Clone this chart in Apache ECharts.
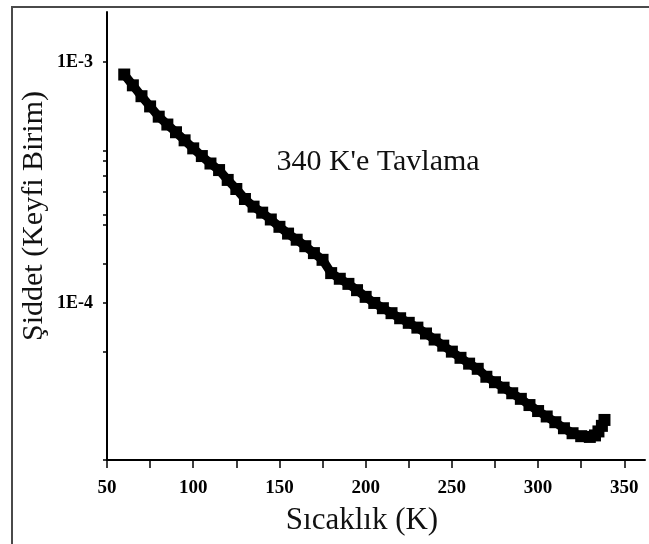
<!DOCTYPE html>
<html>
<head>
<meta charset="utf-8">
<script src="https://cdn.jsdelivr.net/npm/echarts@6/dist/echarts.min.js"></script>
<style>
html,body{margin:0;padding:0;background:#fff;}
#chart{width:649px;height:544px;}
</style>
</head>
<body>
<div id="chart"></div>
<script>
// Temperature (K)
const temperature = [60,65,70,75,80,85,90,95,100,105,110,115,120,125,130,135,140,145,150,155,160,165,170,175,180,185,190,195,200,205,210,215,220,225,230,235,240,245,250,255,260,265,270,275,280,285,290,295,300,305,310,315,320,325,330,333,335,337,338.5];
// Intensity (arbitrary units)
const intensity = [8.87e-4,8.00e-4,7.21e-4,6.54e-4,5.93e-4,5.50e-4,5.11e-4,4.73e-4,4.38e-4,4.07e-4,3.79e-4,3.56e-4,3.24e-4,2.97e-4,2.70e-4,2.51e-4,2.37e-4,2.22e-4,2.07e-4,1.94e-4,1.83e-4,1.72e-4,1.61e-4,1.51e-4,1.33e-4,1.26e-4,1.20e-4,1.13e-4,1.06e-4,1.00e-4,9.51e-5,9.07e-5,8.64e-5,8.27e-5,7.90e-5,7.47e-5,7.05e-5,6.65e-5,6.28e-5,5.92e-5,5.60e-5,5.33e-5,4.94e-5,4.69e-5,4.45e-5,4.22e-5,4.00e-5,3.77e-5,3.56e-5,3.38e-5,3.20e-5,3.02e-5,2.88e-5,2.80e-5,2.78e-5,2.82e-5,2.93e-5,3.09e-5,3.27e-5];

const xLabelValues = [50,100,150,200,250,300,350];
const xTickValues = [50,75,100,125,150,175,200,225,250,275,300,325,350];
const yLabelValues = [1e-3,1e-4];
const yLabelTexts = ['1E-3','1E-4'];
const yTickValues = [2.23e-5,6.28e-5,1e-4,1.46e-4,2.11e-4,2.33e-4,2.88e-4,3.37e-4,3.88e-4,4.29e-4,1e-3];

const titleText = "340 K'e Tavlama";
const xTitle = 'Sıcaklık (K)';
const yTitle = 'Şiddet (Keyfi Birim)';

const chart = echarts.init(document.getElementById('chart'), null, {renderer:'canvas'});
const serif = '"Liberation Serif","DejaVu Serif",serif';

chart.setOption({
  animation:false,
  backgroundColor:'#fff',
  grid:{left:107, top:12, right:4, bottom:84, containLabel:false},
  xAxis:{
    type:'value', min:50, max:362, interval:25,
    axisLine:{show:true, lineStyle:{color:'#000', width:2}},
    axisTick:{show:true, inside:false, length:8, customValues:xTickValues, lineStyle:{color:'#000', width:1.5}},
    axisLabel:{show:true, customValues:xLabelValues, margin:19, fontFamily:serif, fontWeight:'bold', fontSize:19, color:'#000'},
    splitLine:{show:false}
  },
  yAxis:{
    type:'log', logBase:10, min:2.23e-5, max:1.612e-3,
    axisLine:{show:true, lineStyle:{color:'#000', width:2}},
    axisTick:{show:true, inside:false, length:4, customValues:yTickValues, lineStyle:{color:'#000', width:1.5}},
    axisLabel:{show:true, customValues:yLabelValues, margin:14, fontFamily:serif, fontWeight:'bold', fontSize:18, color:'#000',
      formatter:function(v){ const i = yLabelValues.findIndex(function(t){return Math.abs(Math.log10(t)-Math.log10(v))<1e-6;}); return i>=0 ? yLabelTexts[i] : ''; }},
    splitLine:{show:false}, minorTick:{show:false}
  },
  graphic:[
    {type:'rect', shape:{x:12, y:7, width:660, height:560}, style:{fill:'none', stroke:'#4a4a4a', lineWidth:2}, silent:true, z:-1},
    {type:'text', x:378, y:162, style:{text:titleText, font:'30px '+serif, fill:'#111', textAlign:'center', textVerticalAlign:'middle'}},
    {type:'text', x:362, y:521, style:{text:xTitle, font:'31px '+serif, fill:'#111', textAlign:'center', textVerticalAlign:'middle'}},
    {type:'text', x:34, y:216, rotation:Math.PI/2, style:{text:yTitle, font:'30px '+serif, fill:'#111', textAlign:'center', textVerticalAlign:'middle'}}
  ],
  series:[{
    type:'line',
    data:temperature.map(function(t,i){return [t,intensity[i]];}),
    symbol:'rect', symbolSize:12, showSymbol:true,
    itemStyle:{color:'#000'},
    lineStyle:{color:'#000', width:9},
    clip:false
  }]
});
</script>
</body>
</html>
